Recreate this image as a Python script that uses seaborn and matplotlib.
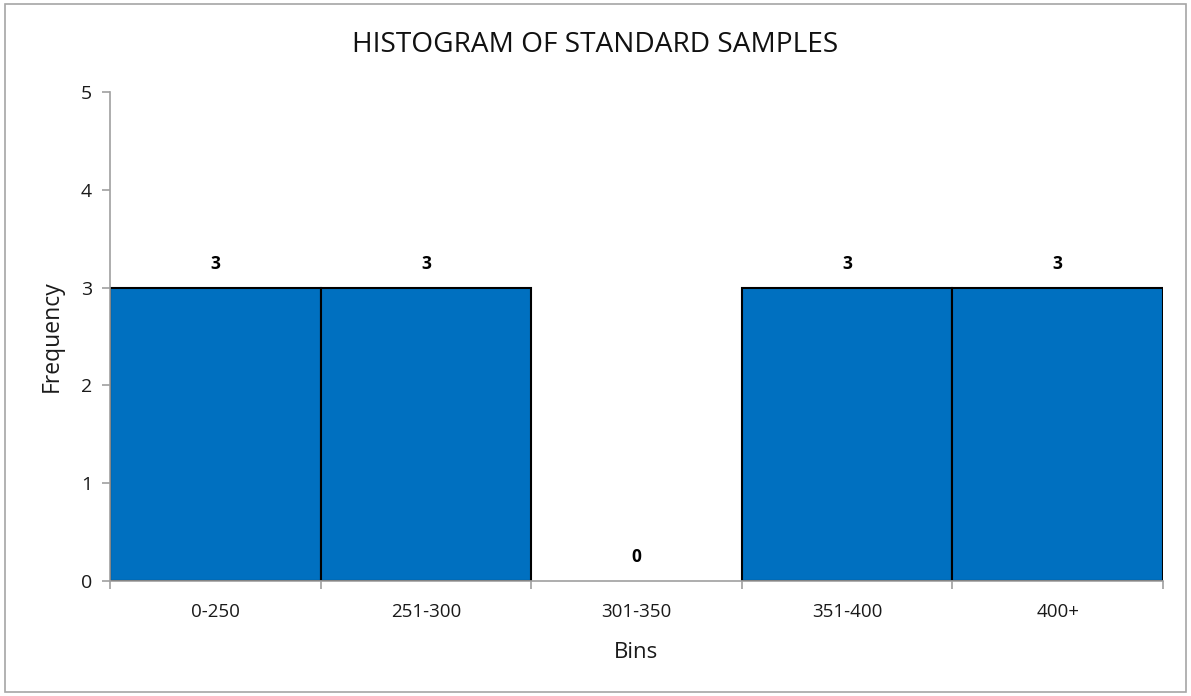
import matplotlib
matplotlib.use("Agg")
import matplotlib.pyplot as plt
import seaborn as sns
import pandas as pd
import numpy as np

bins = ["0-250", "251-300", "301-350", "351-400", "400+"]
frequency = [3, 3, 0, 3, 3]
y_ticks = [0, 1, 2, 3, 4, 5]

sns.set_style("white")
plt.rcParams['font.family'] = ['Open Sans', 'DejaVu Sans']

df = pd.DataFrame({"Bins": bins, "Frequency": frequency})

fig = plt.figure(figsize=(11.91, 6.96), dpi=100)
ax = fig.add_axes([110/1191, 1-581/696, (1163-110)/1191, (581-92)/696])

sns.barplot(data=df, x="Bins", y="Frequency", color="#0070C0", width=1.0,
            edgecolor="black", linewidth=1.5, saturation=1, ax=ax)
for p in ax.patches:
    if p.get_height() == 0:
        p.set_edgecolor("none")

ax.set_xlim(-0.5, len(bins) - 0.5)
ax.set_ylim(0, 5)
ax.set_yticks(y_ticks)
for s in ["top", "right"]:
    ax.spines[s].set_visible(False)
for s in ["left", "bottom"]:
    ax.spines[s].set_color("#A0A0A0")
    ax.spines[s].set_linewidth(1.2)

ax.set_xticks(np.arange(len(bins)))
ax.set_xticklabels(bins, fontsize=13.5, color="#1a1a1a")
ax.tick_params(axis="x", which="major", length=0, pad=16)
ax.set_xticks(np.arange(len(bins) + 1) - 0.5, minor=True)
ax.tick_params(axis="x", which="minor", length=6, color="#A0A0A0", width=1.2, direction="out", bottom=True)
ax.tick_params(axis="y", length=6, color="#A0A0A0", width=1.2, direction="out", left=True, labelsize=14, labelcolor="#1a1a1a", pad=7)

for i, v in enumerate(frequency):
    ax.annotate(str(v), (i, v), xytext=(0, 17), textcoords="offset points",
                ha="center", va="center", fontsize=12.5, fontweight="bold", color="black")

ax.set_xlabel("Bins", fontsize=16, color="#1a1a1a", labelpad=15)
ax.set_ylabel("Frequency", fontsize=16.5, color="#1a1a1a", labelpad=12)
fig.text(0.5, 1 - 45/696, "HISTOGRAM OF STANDARD SAMPLES", ha="center", va="center",
         fontsize=20.2, color="#111111")

border = plt.Rectangle((5/1191, 1 - 692/696), 1181/1191, 688/696, transform=fig.transFigure,
                       fill=False, edgecolor="#A6A6A6", linewidth=1.2)
fig.patches.append(border)

fig.savefig("out.png", dpi=100)
